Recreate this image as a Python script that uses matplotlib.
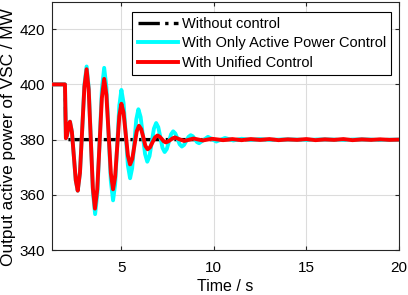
import numpy as np
import matplotlib
matplotlib.use("Agg")
import matplotlib.pyplot as plt

plt.rcParams['font.family'] = ['Liberation Sans', 'DejaVu Sans']

# Time axis (s) and VSC output active power (MW)
t_none = [1.25, 1.95, 2.0, 20.0]
p_none = [400, 400, 380, 380]

t_red = [1.25, 1.95, 2.0, 2.055, 2.11, 2.165, 2.22, 2.325, 2.43, 2.535, 2.64,
         2.76, 2.88, 3.0, 3.12, 3.2325, 3.345, 3.4575, 3.57, 3.695, 3.82, 3.945,
         4.07, 4.19, 4.31, 4.43, 4.55, 4.6625, 4.775, 4.8875, 5.0, 5.1175, 5.235,
         5.3525, 5.47, 5.59, 5.71, 5.83, 5.95, 6.07, 6.19, 6.3, 6.42, 6.55, 6.68,
         6.82, 6.95, 7.06, 7.18, 7.29, 7.4, 7.52, 7.65, 7.78, 7.9, 8.15, 8.4,
         8.9, 9.4, 9.9, 10.5, 11.0, 11.5, 12.0, 12.5, 13.0, 13.5, 14.0, 14.5,
         15.0, 15.5, 16.0, 16.5, 17.0, 17.5, 18.0, 18.5, 19.0, 19.5, 20.0]
p_red = [400, 400, 380.5, 381.4, 383.5, 385.6, 386.5, 382.8, 374.0, 365.2, 361.5,
         367.9, 383.5, 399.1, 405.5, 398.1, 380.25, 362.4, 355.0, 361.9, 378.5, 395.1,
         402.0, 396.2, 382.0, 367.8, 362.0, 366.5, 377.5, 388.5, 393.0, 389.8, 382.0,
         374.2, 371.0, 373.0, 378.0, 383.0, 385.0, 383.8, 380.75, 377.7, 376.5, 377.2, 379.0,
         380.8, 381.5, 381.1, 380.25, 379.4, 379.0, 379.3, 379.9, 380.5, 380.8, 380.1, 379.5,
         380.4, 379.7, 380.3, 379.8, 380.2, 379.8, 380.2, 379.9, 380.2, 379.8, 380.1, 379.9,
         380.2, 379.8, 380.1, 379.9, 380.2, 379.8, 380.1, 379.9, 380.1, 379.9, 380.0]

t_cyan = [1.25, 1.95, 2.0, 2.055, 2.11, 2.165, 2.22, 2.325, 2.43, 2.535, 2.64,
          2.76, 2.88, 3.0, 3.12, 3.235, 3.35, 3.465, 3.58, 3.7025, 3.825, 3.9475,
          4.07, 4.19, 4.31, 4.43, 4.55, 4.6625, 4.775, 4.8875, 5.0, 5.1175, 5.235,
          5.3525, 5.47, 5.5825, 5.695, 5.8075, 5.92, 6.04, 6.16, 6.28, 6.4, 6.52,
          6.64, 6.76, 6.88, 6.995, 7.11, 7.225, 7.34, 7.455, 7.57, 7.685, 7.8,
          7.9175, 8.035, 8.1525, 8.27, 8.39, 8.51, 8.63, 8.75, 8.8625, 8.975,
          9.0875, 9.2, 9.44, 9.68, 9.905, 10.13, 10.365, 10.6, 11.05, 11.5, 12.0,
          12.5, 13.0, 14.0, 15.0, 16.0, 17.0, 18.0, 19.0, 20.0]
p_cyan = [400, 400, 380.5, 381.4, 383.5, 385.6, 386.5, 382.8, 374.0, 365.2, 361.5,
          367.9, 383.5, 399.8, 406.5, 398.7, 379.75, 360.8, 353.0, 360.7, 379.5, 398.3,
          406.0, 399.0, 382.0, 365.0, 358.0, 363.8, 378.0, 392.2, 398.0, 393.3, 382.0,
          370.7, 366.0, 369.65, 378.5, 387.35, 391.0, 388.2, 381.5, 374.8, 372.0, 374.0,
          379.0, 384.0, 386.0, 384.5, 380.75, 377.0, 375.5, 376.6, 379.25, 381.9, 383.0,
          382.2, 380.25, 378.3, 377.5, 378.1, 379.55, 381.0, 381.6, 381.2, 380.15,
          379.1, 378.7, 379.85, 381.0, 380.15, 379.3, 379.95, 380.6, 379.7, 380.3, 379.9,
          380.2, 379.9, 380.1, 379.9, 380.1, 379.9, 380.1, 379.9, 380.0]

fig = plt.figure(figsize=(4.08, 2.95), dpi=100)
ax = fig.add_axes([0.1275, 0.1525, 0.85, 0.842])

ax.plot(t_none, p_none, color='black', linestyle='-.', linewidth=2.4,
        label='Without control', zorder=2)
ax.plot(t_cyan, p_cyan, color='cyan', linewidth=2.8,
        label='With Only Active Power Control', zorder=3)
ax.plot(t_red, p_red, color='red', linewidth=2.8,
        label='With Unified Control', zorder=4)

ax.set_xlim(1.25, 20)
ax.set_ylim(340, 430)
ax.set_xticks([5, 10, 15, 20])
ax.set_yticks([340, 360, 380, 400, 420])
ax.grid(True, color='#dcdcdc', linewidth=0.8)
ax.set_axisbelow(True)
ax.tick_params(direction='in', top=True, right=True, labelsize=11,
               length=3, color='#262626')
ax.tick_params(axis='x', pad=8)
ax.tick_params(axis='y', pad=5)
for sp in ax.spines.values():
    sp.set_color('#262626')
    sp.set_linewidth(0.8)

ax.set_xlabel('Time / s', fontsize=11.5)
ax.xaxis.set_label_coords(0.5, -0.115)
ax.set_ylabel('Output active power of VSC / MW', fontsize=12.4)
ax.yaxis.set_label_coords(-0.105, 0.454)

leg = ax.legend(loc='upper left', fontsize=10.5, fancybox=False, framealpha=1,
                edgecolor='black', borderpad=0.35, labelspacing=0.36,
                handlelength=2.8, handletextpad=0.25, borderaxespad=0,
                bbox_to_anchor=(0.232, 0.958))
leg.get_frame().set_linewidth(0.8)

fig.savefig('out.png', dpi=100)
